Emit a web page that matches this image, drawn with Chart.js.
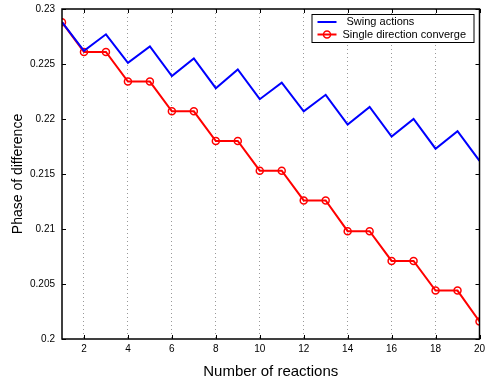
<!DOCTYPE html>
<html lang="en">
<head>
    <meta charset="UTF-8">
    <title>Phase of difference vs number of reactions</title>
    <script src="https://cdnjs.cloudflare.com/ajax/libs/Chart.js/4.4.1/chart.umd.min.js"></script>
    <style>
        body { margin: 0; background: #fff; }
        #wrap { width: 485px; height: 381px; }
    </style>
</head>
<body>
<div id="wrap"><canvas id="chart"></canvas></div>
<script>
// reactions on the x axis
const reactions = [1, 2, 3, 4, 5, 6, 7, 8, 9, 10, 11, 12, 13, 14, 15, 16, 17, 18, 19, 20];
const swingActions = [0.2288, 0.2262, 0.2277, 0.2251, 0.2266, 0.2239, 0.2255, 0.2228, 0.2245, 0.2218,
                      0.2233, 0.2207, 0.2222, 0.2195, 0.2211, 0.2184, 0.2200, 0.2173, 0.2189, 0.2162];
const singleDirection = [0.2288, 0.2261, 0.2261, 0.2234, 0.2234, 0.2207, 0.2207, 0.2180, 0.2180, 0.2153,
                         0.2153, 0.2126, 0.2126, 0.2098, 0.2098, 0.2071, 0.2071, 0.2044, 0.2044, 0.2016];
const xTicks = [2, 4, 6, 8, 10, 12, 14, 16, 18, 20];
const yTicks = [0.2, 0.205, 0.21, 0.215, 0.22, 0.225, 0.23];
const yTickLabels = ['0.2', '0.205', '0.21', '0.215', '0.22', '0.225', '0.23'];

const FONT = "'Liberation Sans', Arial, Helvetica, sans-serif";

function toPoints(vals) {
    return vals.map((v, i) => ({ x: reactions[i], y: v }));
}

// box around the plot with inward ticks, matlab style
const framePlugin = {
    id: 'frame',
    afterDatasetsDraw(chart) {
        const ctx = chart.ctx;
        const a = chart.chartArea;
        const xs = chart.scales.x, ys = chart.scales.y;
        const len = 4;
        ctx.save();
        ctx.strokeStyle = '#000';
        ctx.lineWidth = 1;
        xTicks.forEach(v => {
            const px = Math.round(xs.getPixelForValue(v)) + 0.5;
            ctx.beginPath();
            ctx.moveTo(px, a.bottom); ctx.lineTo(px, a.bottom - len);
            ctx.moveTo(px, a.top); ctx.lineTo(px, a.top + len);
            ctx.stroke();
        });
        yTicks.forEach(v => {
            const py = Math.round(ys.getPixelForValue(v)) + 0.5;
            ctx.beginPath();
            ctx.moveTo(a.left, py); ctx.lineTo(a.left + len, py);
            ctx.moveTo(a.right, py); ctx.lineTo(a.right - len, py);
            ctx.stroke();
        });
        ctx.lineWidth = 1.5;
        ctx.strokeRect(a.left, a.top, a.right - a.left, a.bottom - a.top);
        ctx.restore();
    }
};

// legend inside the top right corner
const insideLegend = {
    id: 'insideLegend',
    afterDraw(chart) {
        const ctx = chart.ctx;
        const a = chart.chartArea;
        const w = 162, h = 28;
        const x0 = a.right - 6 - w, y0 = a.top + 5;
        ctx.save();
        ctx.fillStyle = '#fff';
        ctx.fillRect(x0, y0, w, h);
        ctx.strokeStyle = '#000';
        ctx.lineWidth = 1;
        ctx.strokeRect(x0 + 0.5, y0 + 0.5, w, h);
        ctx.font = '11px ' + FONT;
        ctx.textBaseline = 'middle';
        chart.data.datasets.forEach((ds, i) => {
            const ly = y0 + 8 + i * 12.5;
            ctx.strokeStyle = ds.borderColor;
            ctx.lineWidth = 2;
            ctx.beginPath();
            ctx.moveTo(x0 + 6, ly); ctx.lineTo(x0 + 25, ly);
            ctx.stroke();
            if (ds.pointRadius > 0) {
                ctx.lineWidth = 1.5;
                ctx.beginPath();
                ctx.arc(x0 + 15.5, ly, ds.pointRadius, 0, Math.PI * 2);
                ctx.stroke();
            }
            ctx.fillStyle = '#000';
            ctx.fillText(ds.label, x0 + (i === 0 ? 35 : 31), ly);
        });
        ctx.restore();
    }
};

new Chart(document.getElementById('chart'), {
    type: 'line',
    data: {
        datasets: [
            {
                label: 'Swing actions',
                data: toPoints(swingActions),
                borderColor: '#0000ff',
                borderWidth: 2,
                pointRadius: 0,
                tension: 0
            },
            {
                label: 'Single direction converge',
                data: toPoints(singleDirection),
                borderColor: '#ff0000',
                borderWidth: 2,
                pointRadius: 3.5,
                pointBorderWidth: 1.5,
                pointBorderColor: '#ff0000',
                pointBackgroundColor: 'rgba(0,0,0,0)',
                tension: 0
            }
        ]
    },
    options: {
        responsive: true,
        maintainAspectRatio: false,
        animation: false,
        layout: { padding: { left: 6, right: 5, top: 9, bottom: 0 } },
        plugins: {
            legend: { display: false },
            tooltip: { enabled: false }
        },
        scales: {
            x: {
                type: 'linear',
                min: 1,
                max: 20,
                afterBuildTicks: s => { s.ticks = xTicks.map(v => ({ value: v })); },
                afterFit: s => { s.height = 42; s.paddingLeft = 0; s.paddingRight = 0; },
                border: { display: false, dash: [1, 3] },
                grid: { color: '#999', lineWidth: 1, drawTicks: false },
                ticks: { color: '#000', padding: 4, font: { family: FONT, size: 10 }, maxRotation: 0 },
                title: {
                    display: true,
                    text: 'Number of reactions',
                    color: '#000',
                    font: { family: FONT, size: 15 },
                    padding: { top: 3, bottom: 0 }
                }
            },
            y: {
                min: 0.2,
                max: 0.23,
                afterBuildTicks: s => { s.ticks = yTicks.map(v => ({ value: v })); },
                afterFit: s => { s.width = 56; s.paddingTop = 0; s.paddingBottom = 0; },
                border: { display: false },
                grid: { display: false, drawTicks: false },
                ticks: {
                    color: '#000',
                    padding: 7,
                    font: { family: FONT, size: 10 },
                    callback: (v, i) => yTickLabels[i]
                },
                title: {
                    display: true,
                    text: 'Phase of difference',
                    color: '#000',
                    font: { family: FONT, size: 14 },
                    padding: { top: 4, bottom: 0 }
                }
            }
        }
    },
    plugins: [framePlugin, insideLegend]
});
</script>
</body>
</html>
